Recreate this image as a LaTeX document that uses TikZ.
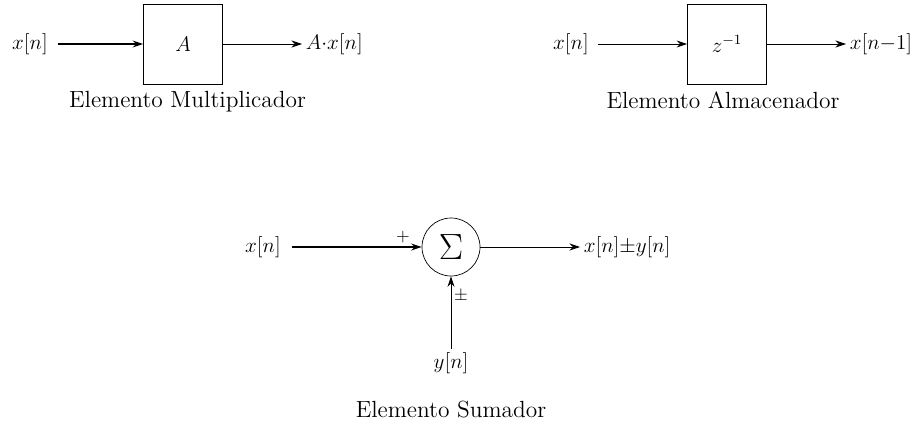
\documentclass[tikz,border=0pt]{standalone}
\usepackage{amsmath}
\usepackage{amssymb}
\usetikzlibrary{arrows.meta,calc}

\tikzset{
  blk/.style={draw,minimum width=1.58cm,minimum height=1.6cm,font=\large},
  sumnode/.style={draw,circle,minimum size=1.16cm,inner sep=0pt},
  sig/.style={font=\large,inner sep=2pt},
  caption/.style={font=\fontsize{13.3}{16}\selectfont}
}

\begin{document}
\begin{tikzpicture}[>={Stealth[length=6pt,width=4pt]},semithin/.style={line width=0.5pt}]
\useasboundingbox (0,0) rectangle (18.4,8.48);

% multiplicador
\node[sig] (xa) at (0.6,7.6) {$x[n]$};
\node[blk] (mult) at (3.66,7.6) {$A$};
\node[sig,anchor=west] (ya) at (6.04,7.6) {$A{\cdot}x[n]$};
\draw[->,thick] ($(xa.east)+(0.12,0)$) -- (mult.west);
\draw[->,semithin] (mult.east) -- (ya.west);
\node[caption] (capa) at (3.75,6.44) {Elemento Multiplicador};

% almacenador
\node[sig] (xb) at (11.42,7.6) {$x[n]$};
\node[blk] (delay) at (14.54,7.6) {$z^{-1}$};
\node[sig,anchor=west] (yb) at (16.92,7.6) {$x[n{-}1]$};
\draw[->,semithin] ($(xb.east)+(0.1,0)$) -- (delay.west);
\draw[->,semithin] (delay.east) -- (yb.west);
\node[caption] (capb) at (14.46,6.48) {Elemento Almacenador};

% sumador
\node[sig] (xc) at (5.26,3.54) {$x[n]$};
\node[sumnode] (sum) at (9.02,3.54) {\huge$\Sigma$};
\node[sig,anchor=west] (yc) at (11.6,3.54) {$x[n]{\pm}y[n]$};
\node[sig] (yn) at (9.02,1.22) {$y[n]$};
\draw[->,thick] ($(xc.east)+(0.14,0)$) -- (sum.west);
\draw[->,semithin] (sum.east) -- (yc.west);
\draw[->,semithin] (yn.north) -- (sum.south);
\node (plus) at (8.06,3.74) {$+$};
\node (pm) at (9.22,2.56) {$\pm$};
\node[caption] (capc) at (9.02,0.28) {Elemento Sumador};

\end{tikzpicture}
\end{document}
